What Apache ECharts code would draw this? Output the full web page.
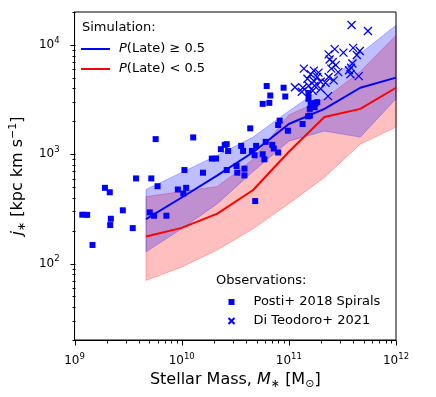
<!DOCTYPE html>
<html>
<head>
<meta charset="utf-8">
<script src="https://cdn.jsdelivr.net/npm/echarts@6/dist/echarts.min.js"></script>
<style>
html, body { margin: 0; padding: 0; background: #fff; }
#chart { width: 436px; height: 397px; }
</style>
</head>
<body>
<div id="chart"></div>
<script>
// simulation bins (stellar mass in Msun)
const simMass = [4.64e9, 1e10, 2.15e10, 4.64e10, 1e11, 2.15e11, 4.64e11, 1e12]
// P(Late) >= 0.5 : median and spread of j*
const lateMedian = [255, 402, 640, 1043, 1890, 2600, 4056, 5020]
const lateLow = [128, 208, 353, 697, 1318, 1629, 1435, 3213]
const lateHigh = [476, 682, 979, 1435, 2490, 4150, 8350, 15100]
// P(Late) < 0.5
const earlyMedian = [177, 212, 286, 471, 1055, 2193, 2600, 4056]
const earlyLow = [70, 93, 133, 208, 353, 614, 1236, 1774]
const earlyHigh = [410, 456, 507, 899, 2288, 3213, 5700, 12240]

// Posti+ 2018 spirals [M*, j*]
const postiData = [
  [1.18e9, 280], [1.31e9, 279], [1.47e9, 148], [1.92e9, 493], [2.13e9, 449], [2.18e9, 257],
  [2.15e9, 225], [2.82e9, 307], [3.49e9, 211], [3.75e9, 601], [5.2e9, 601], [5.71e9, 1375],
  [5.95e9, 510], [5.03e9, 294], [5.51e9, 274], [7.2e9, 274], [9.2e9, 476], [1.035e10, 437],
  [1.1e10, 493], [1.06e10, 717], [1.28e10, 1425], [1.58e10, 678], [1.91e10, 913], [2.09e10, 913],
  [2.32e10, 1112], [2.52e10, 1218], [2.63e10, 1236], [2.71e10, 1072], [2.63e10, 717], [3.25e10, 780],
  [3.3e10, 678], [3.59e10, 1193], [3.85e10, 738], [3.85e10, 640], [4.36e10, 1725], [3.74e10, 1072],
  [4.52e10, 1072], [4.95e10, 1193], [4.79e10, 979], [5.7e10, 1000], [5.91e10, 899], [6.08e10, 1298],
  [4.85e10, 373], [7.0e10, 1218], [7.23e10, 1129], [7.94e10, 1037], [7.94e10, 1850], [8.21e10, 2028],
  [9.79e10, 1640], [1.343e11, 1890], [6.21e10, 4207], [8.93e10, 4058], [6.71e10, 3445], [9.26e10, 3373],
  [5.7e10, 2890], [6.57e10, 2950], [1.524e11, 3627], [1.524e11, 3213], [1.6e11, 2930], [1.567e11, 2600],
  [1.78e11, 2930], [1.84e11, 2996], [1.74e11, 2694], [1.512e11, 2226], [1.57e11, 2254]
]
// Di Teodoro+ 2021 [M*, j*]
const diTeodoroData = [
  [3.85e11, 15200], [5.47e11, 13400], [3.98e11, 9400], [4.59e11, 8800], [4.31e11, 8100], [3.23e11, 8500],
  [2.68e11, 9150], [2.35e11, 8200], [2.40e11, 7350], [2.57e11, 6970], [2.74e11, 6530], [2.49e11, 6070],
  [2.89e11, 5640], [3.92e11, 6750], [3.80e11, 6200], [3.64e11, 5860], [3.76e11, 5400], [4.49e11, 5180],
  [1.38e11, 6070], [1.71e11, 5820], [1.89e11, 5580], [1.60e11, 5400], [1.49e11, 4910], [1.72e11, 4660],
  [1.84e11, 5090], [1.98e11, 4610], [2.20e11, 4510], [2.35e11, 5090], [2.62e11, 4740], [1.14e11, 4100],
  [1.35e11, 4060], [1.53e11, 4230], [1.74e11, 4230], [1.67e11, 3810], [1.98e11, 3970], [2.32e11, 3400],
  [1.32e11, 3730]
]

// axis limits and ticks
const xMin = 1e9
const xMax = 1e12
const yMin = 20
const yMax = 20000
const xMajorTicks = [1e9, 1e10, 1e11, 1e12]
const yMajorTicks = [1e2, 1e3, 1e4]
const minorMult = [2, 3, 4, 5, 6, 7, 8, 9]

const FONT = 'DejaVu Sans'
const late = 'P(Late) ≥ 0.5'
const early = 'P(Late) < 0.5'
const posti = 'Posti+ 2018 Spirals'
const diteo = 'Di Teodoro+ 2021'
const xPath = 'path://M0,0L10,10M0,10L10,0'

function minorTicks (lo, hi) {
  let out = []
  for (let d = lo; d < hi; d *= 10) {
    minorMult.forEach(m => { if (m * d <= hi) out.push(m * d) })
  }
  return out
}

function pairs (xs, ys) {
  return xs.map((x, i) => [x, ys[i]])
}

// shaded spread drawn as polygon through the axis scales
function band (low, high, fill, stroke, z) {
  return {
    type: 'custom',
    silent: true,
    z: z,
    data: [[simMass[0], low[0]]],
    renderItem: function (params, api) {
      let pts = []
      for (let i = 0; i < simMass.length; i++) pts.push(api.coord([simMass[i], high[i]]))
      for (let i = simMass.length - 1; i >= 0; i--) pts.push(api.coord([simMass[i], low[i]]))
      return { type: 'polygon', shape: { points: pts }, style: { fill: fill, stroke: stroke, lineWidth: 1 } }
    }
  }
}

// matplotlib style outward ticks
function tickSeries (vals, isX, len) {
  return {
    type: 'custom',
    silent: true,
    clip: false,
    z: 20,
    data: vals.map(v => isX ? [v, yMin] : [xMin, v]),
    renderItem: function (params, api) {
      let p = api.coord([isX ? api.value(0) : xMin, isX ? yMin : api.value(1)])
      let x = Math.round(p[0]) + 0.5
      let y = Math.round(p[1]) + 0.5
      let shape = isX ? { x1: x, y1: y, x2: x, y2: y + len } : { x1: x, y1: y, x2: x - len, y2: y }
      return { type: 'line', shape: shape, style: { stroke: '#000', lineWidth: 1 } }
    }
  }
}

const powLabel = v => '{b|10}{s|' + Math.round(Math.log10(v)) + '}'
const tickRich = {
  b: { fontFamily: FONT, fontSize: 12, lineHeight: 18, color: '#000' },
  s: { fontFamily: FONT, fontSize: 8.5, lineHeight: 10, verticalAlign: 'top', color: '#000' }
}
const nameRich = {
  t: { fontFamily: FONT, fontSize: 16, lineHeight: 20, color: '#000' },
  i: { fontFamily: FONT, fontSize: 16, lineHeight: 20, fontStyle: 'italic', color: '#000' },
  sub: { fontFamily: FONT, fontSize: 11, lineHeight: 11, verticalAlign: 'bottom', color: '#000' },
  sup: { fontFamily: FONT, fontSize: 11, lineHeight: 11, verticalAlign: 'top', color: '#000' }
}
const legRich = {
  i: { fontFamily: FONT, fontSize: 13, fontStyle: 'italic', color: '#000' },
  t: { fontFamily: FONT, fontSize: 13, color: '#000' }
}

let chart = echarts.init(document.getElementById('chart'), null, { renderer: 'canvas' })
chart.setOption({
  backgroundColor: '#fff',
  animation: false,
  grid: { left: 70, top: 12, width: 326, height: 328, show: true, borderColor: '#000', borderWidth: 1 },
  xAxis: {
    type: 'log',
    logBase: 10,
    min: xMin,
    max: xMax,
    axisLine: { lineStyle: { color: '#000', width: 1 } },
    axisTick: { show: false },
    splitLine: { show: false },
    axisLabel: { margin: 12, formatter: powLabel, rich: tickRich },
    name: '{t|Stellar Mass, }{i|M}{sub|∗}{t| [M}{sub|⊙}{t|]}',
    nameLocation: 'middle',
    nameGap: 25,
    nameTextStyle: { rich: nameRich }
  },
  yAxis: {
    type: 'log',
    logBase: 10,
    min: yMin,
    max: yMax,
    axisLine: { lineStyle: { color: '#000', width: 1 } },
    axisTick: { show: false },
    splitLine: { show: false },
    axisLabel: { margin: 15, showMinLabel: false, showMaxLabel: false, formatter: powLabel, rich: tickRich },
    name: '{i|j}{sub|∗}{t| [kpc km s}{sup|−1}{t|]}',
    nameLocation: 'middle',
    nameRotate: 90,
    nameGap: 28,
    nameTextStyle: { rich: nameRich }
  },
  legend: [
    {
      data: [
        { name: late, icon: 'path://M0,0h29v2h-29z' },
        { name: early, icon: 'path://M0,0h29v2h-29z' }
      ],
      orient: 'vertical',
      left: 81,
      top: 42,
      padding: 0,
      itemWidth: 29,
      itemHeight: 14,
      itemGap: 6,
      formatter: n => '{i|P}{t|' + n.slice(1) + '}',
      textStyle: { fontFamily: FONT, fontSize: 13, lineHeight: 14, color: '#000', padding: [0, 0, 0, 4], rich: legRich }
    },
    {
      data: [
        { name: posti, icon: 'path://M0,0h10v10h-10z' },
        { name: diteo, icon: xPath }
      ],
      orient: 'vertical',
      left: 226,
      top: 295,
      padding: 0,
      itemWidth: 6,
      itemHeight: 14,
      itemGap: 5,
      textStyle: { fontFamily: FONT, fontSize: 13, lineHeight: 14, color: '#000', padding: [0, 0, 0, 14] }
    }
  ],
  graphic: [
    { type: 'text', left: 82, top: 21, style: { text: 'Simulation:', font: '13px "DejaVu Sans"', fill: '#000' } },
    { type: 'text', left: 216, top: 274, style: { text: 'Observations:', font: '13px "DejaVu Sans"', fill: '#000' } }
  ],
  series: [
    band(earlyLow, earlyHigh, 'rgba(255,0,0,0.25)', 'rgba(255,0,0,0.25)', 1),
    band(lateLow, lateHigh, 'rgba(0,0,255,0.25)', 'rgba(0,0,255,0.25)', 2),
    {
      name: late,
      type: 'line',
      data: pairs(simMass, lateMedian),
      symbol: 'none',
      z: 3,
      lineStyle: { color: '#0000ff', width: 2 },
      itemStyle: { color: '#0000ff' }
    },
    {
      name: early,
      type: 'line',
      data: pairs(simMass, earlyMedian),
      symbol: 'none',
      z: 3,
      lineStyle: { color: '#ff0000', width: 2 },
      itemStyle: { color: '#ff0000' }
    },
    {
      name: posti,
      type: 'scatter',
      data: postiData,
      symbol: 'rect',
      symbolSize: 6,
      z: 4,
      itemStyle: { color: '#0000ff', opacity: 1 }
    },
    {
      name: diteo,
      type: 'scatter',
      data: diTeodoroData,
      symbol: xPath,
      symbolSize: 8,
      z: 4,
      itemStyle: { color: 'none', borderColor: '#0000ff', borderWidth: 1.3, opacity: 1 }
    },
    tickSeries(xMajorTicks, true, 5),
    tickSeries(minorTicks(xMin, xMax).filter(v => xMajorTicks.indexOf(v) < 0), true, 3),
    tickSeries(yMajorTicks, false, 5),
    tickSeries(minorTicks(10, yMax).filter(v => v >= yMin && yMajorTicks.indexOf(v) < 0), false, 3)
  ]
})
</script>
</body>
</html>
